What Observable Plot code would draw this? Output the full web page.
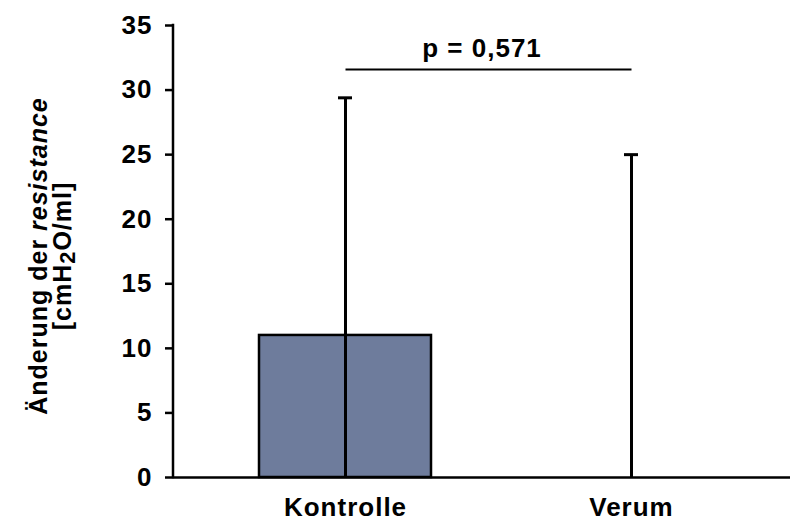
<!DOCTYPE html>
<html><head><meta charset="utf-8">
<script src="https://cdn.jsdelivr.net/npm/d3@7"></script>
<script src="https://cdn.jsdelivr.net/npm/@observablehq/plot@0.6"></script>
<style>body{margin:0;background:#fff} svg{display:block}</style>
</head><body><div id="chart"></div>
<script>
const categories = ["Kontrolle", "Verum"];
const means = [11, 0];
const sds = [18.4, 25];
const yTicks = [0, 5, 10, 15, 20, 25, 30, 35];
const pLabel = "p = 0,571";
const bracketY = 31.6;
const pLabelY = 33.2;
const titleLine1 = ["Änderung der ", "resistance"];
const titleLine2 = ["[cmH", "2", "O/ml]"];

const data = categories.map((c, i) => ({
  cat: c, mean: means[i],
  lo: Math.max(0, means[i] - sds[i]), hi: means[i] + sds[i]
}));
const font = "'Liberation Sans', Arial, sans-serif";

const chart = Plot.plot({
  width: 790, height: 522,
  marginLeft: 173, marginRight: 0, marginTop: 25, marginBottom: 45,
  style: {fontFamily: font, fontWeight: "bold", fontSize: "26px", color: "#000", background: "#fff", letterSpacing: "1px"},
  x: {domain: categories, range: [173, 803], paddingInner: 0.4, paddingOuter: 0.3, label: null, axis: null},
  y: {domain: [0, 35], label: null, axis: null},
  marks: [
    Plot.barY(data, {x: "cat", y: "mean", fill: "#6E7C9C", stroke: "#000", strokeWidth: 2.5}),
    Plot.ruleX(data, {x: "cat", y1: "lo", y2: "hi", stroke: "#000", strokeWidth: 3}),
    Plot.tickY(data, {x: "cat", y: "hi", stroke: "#000", strokeWidth: 3, insetLeft: 79, insetRight: 79}),
    Plot.ruleY([0], {stroke: "#000", strokeWidth: 2.5}),
    Plot.axisY(yTicks, {tickSize: 8, tickPadding: 13, strokeWidth: 2.5, fontSize: 26, fontWeight: "bold", label: null}),
    Plot.axisX({tickSize: 0, tickPadding: 20, fontSize: 26, fontWeight: "bold", label: null}),
    Plot.link([{a: categories[0], b: categories[1], y: bracketY}], {x1: "a", x2: "b", y1: "y", y2: "y", stroke: "#000", strokeWidth: 2}),
    Plot.text([pLabel], {y: () => pLabelY, frameAnchor: "middle", text: d => d, fontSize: 26, fontWeight: "bold"})
  ]
});
document.getElementById("chart").appendChild(chart);

const svg = d3.select(chart);
const ys = chart.scale("y");
const y0 = ys.apply(0), y35 = ys.apply(35);
svg.append("line")
  .attr("x1", 173).attr("x2", 173).attr("y1", y0 + 1.25).attr("y2", y35 - 1.25)
  .attr("stroke", "#000").attr("stroke-width", 2.5);

const cy = (y0 + y35) / 2 + 5;
const t1 = svg.append("text")
  .attr("transform", `translate(47,${cy}) rotate(-90)`)
  .attr("text-anchor", "middle")
  .attr("font-family", font).attr("font-weight", "bold").attr("font-size", 25).attr("fill", "#000");
t1.append("tspan").text(titleLine1[0]);
t1.append("tspan").attr("font-style", "italic").text(titleLine1[1]);

const t2 = svg.append("text")
  .attr("transform", `translate(71,${cy}) rotate(-90)`)
  .attr("text-anchor", "middle")
  .attr("font-family", font).attr("font-weight", "bold").attr("font-size", 25).attr("fill", "#000");
t2.append("tspan").text(titleLine2[0]);
t2.append("tspan").attr("font-size", 22).attr("dy", 4).text(titleLine2[1]);
t2.append("tspan").attr("dy", -4).text(titleLine2[2]);
</script>
</body></html>
